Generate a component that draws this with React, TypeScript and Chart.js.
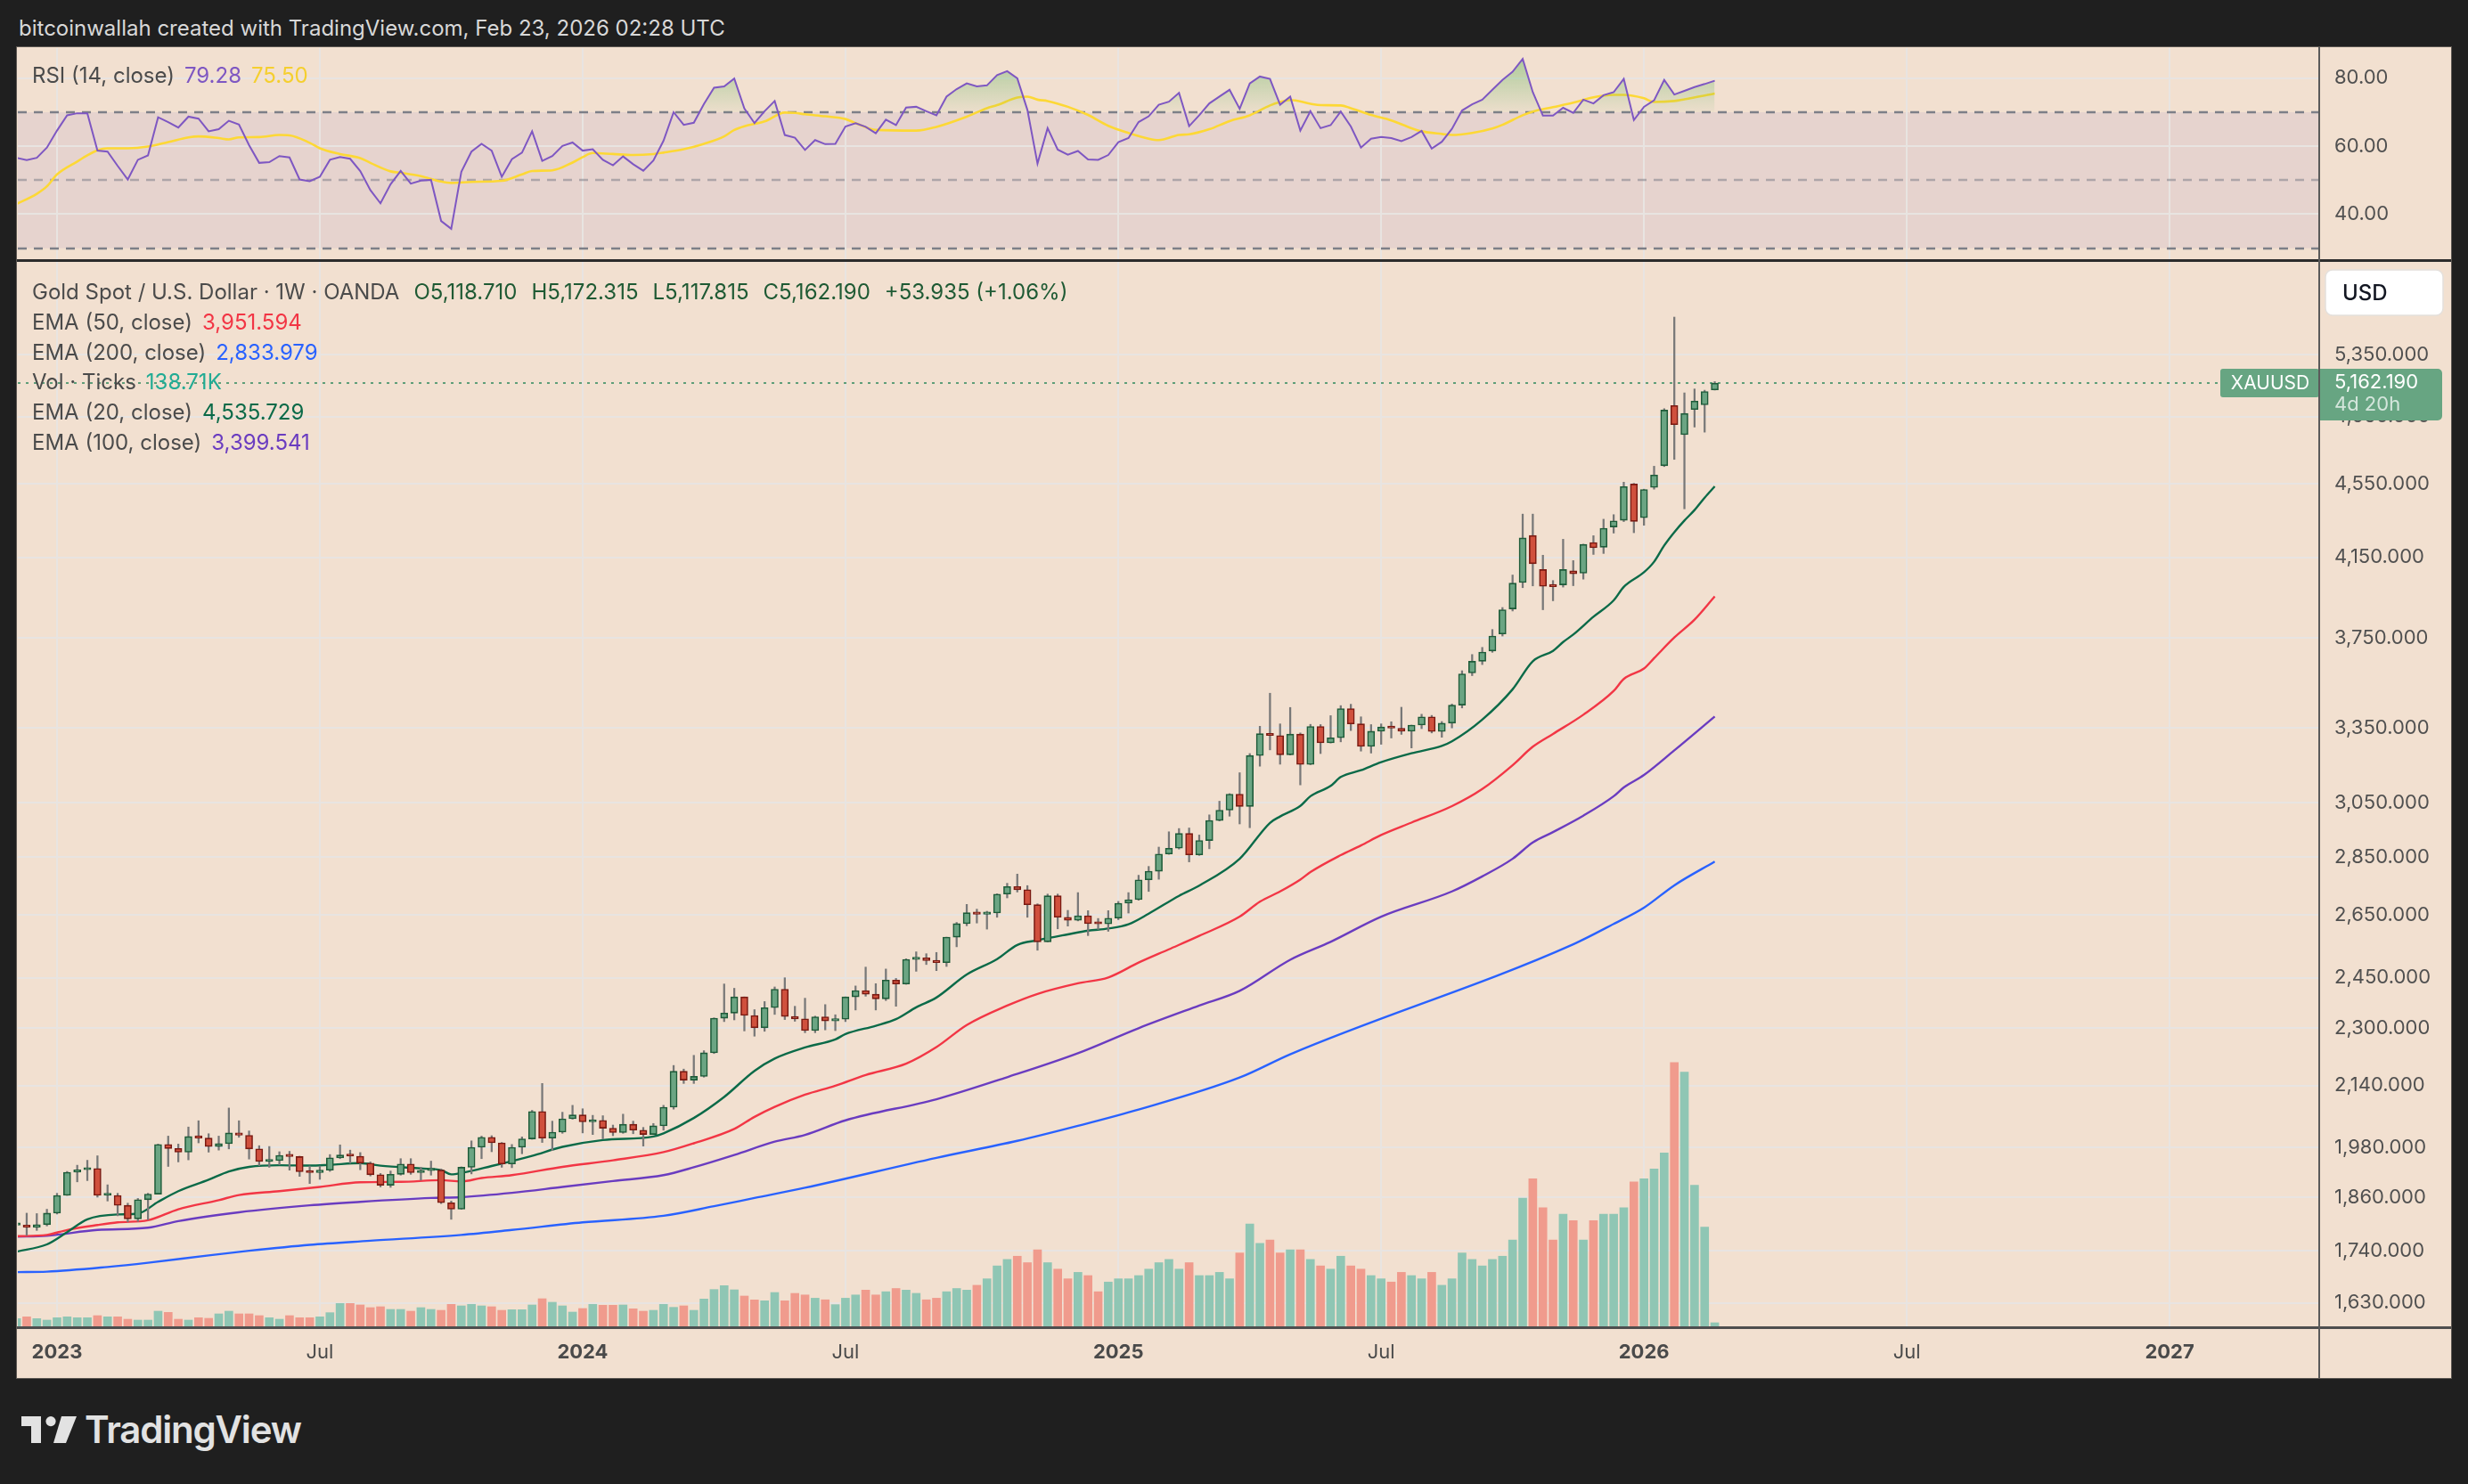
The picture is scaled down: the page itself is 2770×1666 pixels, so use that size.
import React, { useEffect, useRef } from "react";
import { Chart, registerables } from "chart.js";

Chart.register(...registerables);

// ---- Weekly XAUUSD bars (OANDA). Week index 0 = week of 2 Jan 2023 ----
const firstWeek = -4;

const opens = [
  1797, 1797, 1792, 1798,
  1824, 1865, 1920, 1926, 1929, 1865, 1865, 1842, 1811, 1855,
  1868, 1988, 1978, 1969, 2008, 2004, 1983, 1990, 2017, 2011,
  1977, 1946, 1948, 1961, 1958, 1921, 1919, 1925, 1955, 1962,
  1959, 1942, 1914, 1889, 1915, 1940, 1919, 1924, 1925, 1848,
  1833, 1932, 1981, 2006, 1992, 1940, 1981, 2002, 2072, 2004,
  2019, 2053, 2063, 2045, 2049, 2029, 2018, 2039, 2024, 2013,
  2035, 2083, 2179, 2155, 2165, 2230, 2329, 2344, 2392, 2337,
  2301, 2360, 2415, 2334, 2327, 2293, 2333, 2321, 2326, 2392,
  2411, 2400, 2386, 2443, 2431, 2507, 2512, 2503, 2497, 2578,
  2622, 2658, 2653, 2657, 2721, 2747, 2736, 2685, 2563, 2715,
  2643, 2633, 2648, 2622, 2621, 2640, 2690, 2702, 2770, 2800,
  2861, 2882, 2936, 2858, 2910, 2984, 3023, 3084, 3037, 3237,
  3327, 3319, 3240, 3325, 3201, 3357, 3289, 3310, 3433, 3368,
  3274, 3337, 3355, 3350, 3337, 3363, 3398, 3336, 3371, 3448,
  3590, 3643, 3690, 3770, 3890, 4021, 4265, 4087, 4005, 4009,
  4080, 4068, 4228, 4203, 4311, 4347, 4549, 4361, 4530, 4655,
  5020, 4840, 4995, 5024, 5118.71,
];

const highs = [
  1810, 1824, 1823, 1833,
  1870, 1922, 1937, 1949, 1960, 1890, 1870, 1847, 1858, 1870,
  1989, 2009, 1989, 2032, 2048, 2015, 2009, 2081, 2048, 2022,
  1985, 1983, 1970, 1971, 1959, 1935, 1935, 1963, 1987, 1974,
  1968, 1945, 1917, 1923, 1953, 1953, 1932, 1947, 1928, 1852,
  1933, 1997, 2009, 2010, 1993, 1988, 2007, 2075, 2146, 2047,
  2070, 2088, 2079, 2062, 2061, 2037, 2065, 2047, 2031, 2041,
  2088, 2195, 2185, 2223, 2236, 2330, 2431, 2418, 2392, 2354,
  2378, 2422, 2450, 2364, 2388, 2335, 2369, 2339, 2392, 2425,
  2483, 2432, 2477, 2448, 2509, 2531, 2525, 2529, 2578, 2626,
  2686, 2670, 2663, 2722, 2758, 2790, 2750, 2688, 2721, 2721,
  2666, 2726, 2665, 2639, 2665, 2696, 2726, 2786, 2817, 2886,
  2942, 2954, 2956, 2930, 3005, 3057, 3086, 3168, 3245, 3358,
  3500, 3368, 3438, 3330, 3366, 3365, 3403, 3446, 3452, 3398,
  3365, 3368, 3377, 3439, 3363, 3409, 3404, 3378, 3453, 3600,
  3674, 3707, 3791, 3897, 4059, 4381, 4381, 4161, 4031, 4245,
  4133, 4219, 4264, 4353, 4378, 4560, 4553, 4520, 4652, 5000,
  5608, 5100, 5125, 5117, 5172.315,
];

const lows = [
  1765, 1774, 1785, 1795,
  1822, 1865, 1897, 1900, 1861, 1852, 1818, 1804, 1805, 1809,
  1868, 1934, 1945, 1950, 1992, 1969, 1974, 1977, 2006, 1952,
  1936, 1932, 1938, 1925, 1910, 1893, 1903, 1922, 1953, 1942,
  1926, 1911, 1885, 1884, 1913, 1915, 1901, 1913, 1846, 1810,
  1833, 1916, 1953, 1970, 1932, 1931, 1965, 2001, 1993, 1973,
  2016, 2052, 2017, 2013, 2002, 2010, 2016, 2015, 1984, 2013,
  2024, 2078, 2146, 2146, 2163, 2228, 2319, 2324, 2292, 2277,
  2291, 2340, 2325, 2320, 2287, 2287, 2295, 2293, 2319, 2353,
  2394, 2353, 2381, 2364, 2430, 2470, 2491, 2472, 2485, 2547,
  2615, 2624, 2604, 2643, 2708, 2728, 2643, 2536, 2563, 2605,
  2614, 2631, 2583, 2603, 2597, 2635, 2657, 2700, 2730, 2772,
  2860, 2879, 2833, 2856, 2880, 2982, 3000, 2971, 2957, 3194,
  3260, 3202, 3239, 3120, 3200, 3245, 3288, 3293, 3340, 3255,
  3247, 3283, 3309, 3324, 3268, 3348, 3330, 3312, 3351, 3436,
  3578, 3628, 3684, 3760, 3880, 3995, 4004, 3886, 3930, 3998,
  4005, 4038, 4165, 4170, 4278, 4340, 4280, 4320, 4520, 4650,
  4692, 4410, 4886, 4855, 5117.815,
];

const closes = [
  1797, 1792, 1798, 1824,
  1865, 1920, 1926, 1929, 1865, 1865, 1842, 1811, 1855, 1868,
  1988, 1978, 1969, 2008, 2004, 1983, 1990, 2017, 2011, 1977,
  1946, 1948, 1961, 1958, 1921, 1919, 1925, 1955, 1962, 1959,
  1942, 1914, 1889, 1915, 1940, 1919, 1924, 1925, 1848, 1833,
  1932, 1981, 2006, 1992, 1940, 1981, 2002, 2072, 2004, 2019,
  2053, 2063, 2045, 2049, 2029, 2018, 2039, 2024, 2013, 2035,
  2083, 2179, 2155, 2165, 2230, 2329, 2344, 2392, 2337, 2301,
  2360, 2415, 2334, 2327, 2293, 2333, 2321, 2326, 2392, 2411,
  2400, 2386, 2443, 2431, 2507, 2512, 2503, 2497, 2578, 2622,
  2658, 2653, 2657, 2721, 2747, 2736, 2685, 2563, 2715, 2643,
  2633, 2648, 2622, 2621, 2640, 2690, 2702, 2770, 2800, 2861,
  2882, 2936, 2858, 2910, 2984, 3023, 3084, 3037, 3237, 3327,
  3319, 3240, 3325, 3201, 3357, 3289, 3310, 3433, 3368, 3274,
  3337, 3355, 3350, 3337, 3363, 3398, 3336, 3371, 3448, 3586,
  3643, 3685, 3760, 3886, 4018, 4252, 4117, 4002, 4000, 4087,
  4065, 4218, 4200, 4304, 4344, 4535, 4341, 4518, 4601, 4991,
  4901, 4970, 5048, 5108.255, 5162.19,
];

// Tick volume, thousands of ticks
const volumes = [
  267, 322, 267, 221,
  294, 322, 294, 294, 359, 322, 322, 248, 221, 221,
  497, 460, 248, 221, 294, 276, 414, 497, 414, 414,
  359, 294, 248, 359, 294, 294, 322, 451, 736, 736,
  690, 607, 635, 552, 552, 497, 607, 552, 524, 708,
  662, 708, 662, 635, 524, 543, 543, 690, 883, 773,
  662, 469, 580, 708, 681, 681, 690, 570, 497, 524,
  708, 616, 662, 524, 874, 1168, 1288, 1159, 966, 846,
  819, 1076, 819, 1049, 1000, 900, 850, 700, 900, 1000,
  1150, 1000, 1100, 1200, 1150, 1050, 850, 900, 1100, 1200,
  1150, 1300, 1500, 1900, 2100, 2200, 2000, 2400, 2000, 1800,
  1500, 1700, 1600, 1100, 1400, 1500, 1500, 1600, 1800, 2000,
  2100, 1800, 2000, 1600, 1600, 1700, 1500, 2300, 3200, 2600,
  2700, 2300, 2400, 2400, 2100, 1900, 1800, 2200, 1900, 1800,
  1600, 1500, 1400, 1700, 1600, 1500, 1700, 1300, 1500, 2300,
  2100, 1900, 2100, 2200, 2700, 4000, 4600, 3700, 2700, 3500,
  3300, 2700, 3300, 3500, 3500, 3700, 4500, 4600, 4900, 5400,
  8200, 7900, 4400, 3100, 138.71,
];

// RSI (14, close), one value per bar
const rsiValues = [
  56.6, 55.9, 56.6, 59.6,
  64.6, 69.1, 69.7, 69.7, 58.7, 58.4, 54.2, 50.2, 56.0, 57.3,
  68.5, 67.1, 65.5, 68.7, 68.1, 64.4, 65.0, 67.5, 66.4, 60.3,
  55.1, 55.3, 57.1, 56.7, 50.2, 49.7, 51.0, 56.0, 56.8, 56.3,
  52.7, 47.1, 43.2, 48.8, 52.7, 49.0, 49.9, 50.1, 38.0, 35.7,
  52.5, 58.4, 60.7, 58.7, 51.0, 56.2, 58.1, 64.4, 55.7, 57.1,
  60.1, 61.1, 58.7, 59.1, 56.0, 54.4, 57.0, 54.7, 52.8, 55.8,
  61.6, 70.0, 66.3, 66.9, 72.4, 77.2, 77.6, 79.9, 71.1, 66.8,
  70.3, 73.3, 63.3, 62.5, 58.9, 61.8, 60.6, 60.7, 65.8, 66.8,
  65.7, 63.8, 67.8, 66.2, 71.4, 71.6, 70.3, 69.1, 74.6, 76.8,
  78.5, 77.6, 77.9, 80.9, 82.1, 80.0, 70.7, 54.9, 65.3, 59.0,
  57.5, 58.6, 56.1, 56.0, 57.4, 61.2, 62.4, 67.1, 68.8, 72.2,
  73.1, 75.7, 65.9, 69.1, 72.6, 74.6, 76.6, 71.0, 78.5, 80.5,
  79.8, 72.2, 74.6, 64.6, 70.3, 65.3, 66.2, 70.2, 65.8, 59.6,
  62.2, 62.7, 62.4, 61.5, 62.7, 64.5, 59.3, 61.3, 65.1, 70.5,
  72.3, 73.7, 76.6, 79.5, 81.9, 85.7, 75.9, 69.0, 69.0, 71.3,
  69.8, 73.7, 72.6, 75.0, 75.9, 79.8, 67.7, 71.6, 73.5, 79.5,
  75.2, 76.3, 77.4, 78.3, 79.28,
];

// RSI-based moving average
const rsiMaWeeks = [
  -4, -2, -1, 0, 2, 3, 4, 5, 7, 9, 11, 13, 14, 16, 17, 18, 20, 22, 23, 25,
  26, 28, 30, 31, 33, 34, 36, 38, 39, 41, 44, 46, 47, 49, 51, 52, 53, 55, 57, 59,
  60, 62, 64, 66, 67, 68, 70, 72, 73, 74, 76, 78, 79, 81, 85, 87, 90, 92, 93, 95,
  96, 97, 98, 100, 102, 104, 106, 108, 109, 111, 112, 114, 116, 118, 120, 121, 122, 124, 125, 127,
  128, 130, 132, 134, 135, 137, 138, 140, 142, 143, 145, 146, 148, 150, 152, 154, 155, 157, 158, 160,
  161, 164,
];
const rsiMaValues = [
  43.0, 46.0, 48.2, 51.7, 55.5, 57.3, 58.8, 59.4, 59.4, 59.9, 61.2, 62.6, 62.9, 62.4, 62.0, 62.6, 62.7, 63.3, 63.2, 61.0,
  59.4, 57.7, 56.5, 55.1, 52.6, 52.2, 51.2, 49.6, 49.2, 49.5, 49.8, 51.7, 52.7, 52.9, 55.2, 56.8, 58.0, 57.7, 57.4, 57.7,
  58.1, 59.1, 60.7, 62.9, 64.8, 65.9, 67.3, 69.9, 69.8, 69.4, 68.8, 68.0, 66.8, 64.8, 64.6, 65.7, 68.7, 71.2, 72.1, 74.3,
  74.6, 73.7, 73.3, 71.6, 69.2, 66.0, 63.9, 62.2, 61.8, 63.3, 63.5, 65.0, 67.4, 69.1, 72.0, 73.0, 73.6, 72.5, 72.1, 72.0,
  71.2, 69.2, 67.6, 65.3, 64.4, 63.6, 63.3, 63.9, 65.2, 66.3, 69.1, 70.2, 71.5, 72.8, 74.4, 75.1, 75.1, 74.1, 73.0, 73.3,
  73.8, 75.5,
];

// Exponential moving averages of the close
const ema20Weeks = [
  -4, -1, 1, 3, 6, 8, 10, 12, 15, 17, 19, 22, 25, 27, 30, 32, 36, 38, 39, 40,
  43, 47, 50, 54, 59, 60, 63, 66, 69, 71, 74, 77, 78, 81, 83, 85, 87, 90, 93, 95,
  97, 100, 102, 104, 106, 108, 111, 113, 117, 120, 121, 123, 124, 126, 127, 129, 131, 134, 137, 138,
  141, 144, 146, 148, 149, 150, 152, 154, 155, 157, 158, 159, 160, 161, 162, 163, 164,
];
const ema20Values = [
  1738, 1754, 1781, 1810, 1821, 1823, 1850, 1875, 1902, 1922, 1933, 1937, 1936, 1938, 1942, 1936, 1929, 1925, 1915, 1918,
  1935, 1960, 1982, 1999, 2008, 2016, 2055, 2110, 2180, 2214, 2245, 2268, 2283, 2307, 2326, 2361, 2390, 2460, 2508, 2553,
  2568, 2587, 2599, 2606, 2620, 2655, 2715, 2750, 2844, 2975, 2999, 3039, 3076, 3116, 3151, 3178, 3210, 3246, 3276, 3295,
  3386, 3517, 3643, 3691, 3732, 3767, 3852, 3932, 3999, 4073, 4127, 4212, 4283, 4346, 4403, 4472, 4535.729,
];

const ema50Weeks = [
  -4, -1, 1, 4, 6, 9, 12, 16, 18, 22, 26, 30, 34, 38, 40, 42, 45, 50, 55, 60,
  63, 67, 69, 71, 74, 77, 80, 84, 87, 90, 94, 97, 101, 104, 107, 110, 113, 117, 119, 121,
  123, 124, 127, 129, 131, 134, 138, 141, 144, 146, 148, 151, 154, 155, 157, 158, 160, 162, 164,
];
const ema50Values = [
  1772, 1775, 1786, 1797, 1803, 1808, 1833, 1854, 1866, 1875, 1885, 1896, 1897, 1901, 1898, 1906, 1913, 1933, 1949, 1969,
  1991, 2027, 2058, 2084, 2116, 2140, 2169, 2200, 2246, 2309, 2366, 2401, 2433, 2451, 2497, 2539, 2582, 2645, 2695, 2730,
  2771, 2797, 2857, 2892, 2930, 2976, 3038, 3104, 3198, 3273, 3326, 3407, 3510, 3563, 3610, 3657, 3753, 3838, 3951.594,
];

const ema100Weeks = [
  -4, -1, 4, 9, 12, 18, 25, 30, 37, 40, 45, 50, 55, 60, 63, 67, 71, 74, 78, 87,
  94, 101, 107, 113, 117, 122, 126, 131, 138, 141, 144, 146, 148, 151, 154, 155, 157, 160, 164,
];
const ema100Values = [
  1771, 1773, 1786, 1791, 1806, 1826, 1842, 1850, 1859, 1861, 1871, 1885, 1899, 1913, 1932, 1962, 1995, 2012, 2049, 2104,
  2163, 2229, 2300, 2366, 2410, 2506, 2563, 2645, 2730, 2782, 2844, 2903, 2941, 3002, 3076, 3110, 3159, 3258, 3399.541,
];

const ema200Weeks = [
  -4, -1, 5, 9, 15, 19, 25, 31, 40, 45, 52, 60, 65, 69, 74, 87, 95, 101, 107, 117,
  122, 150, 154, 157, 160, 164,
];
const ema200Values = [
  1694, 1695, 1705, 1714, 1730, 1740, 1753, 1762, 1775, 1786, 1803, 1818, 1840, 1859, 1883, 1955, 1997, 2035, 2077, 2162,
  2226, 2555, 2621, 2675, 2751, 2833.979,
];

// Axis ticks
const priceTicks = [1630, 1740, 1860, 1980, 2140, 2300, 2450, 2650, 2850, 3050, 3350, 3750, 4150, 4550, 4950, 5350];
const rsiTicks = [40, 60, 80];
const timeTickWeeks = [0, 26, 52, 78, 105, 131, 157, 183, 209];
const timeTickLabels = ["2023", "Jul", "2024", "Jul", "2025", "Jul", "2026", "Jul", "2027"];

// ---- styling ----
const FONT = "Inter, 'Noto Sans', Roboto, sans-serif";
const PAGE_BG = "#1f1f1f";
const PANE_BG = "#f2e0d0";
const GRID = "#e8e4e1";
const AXIS_TEXT = "#505050";
const UP_FILL = "#6ba583";
const UP_LINE = "#1e5b39";
const DOWN_FILL = "#d0503d";
const DOWN_LINE = "#7a1a12";
const VOL_UP = "#8fc6b4";
const VOL_DOWN = "#f09b8d";
const TAG_GREEN = "#67a582";

// visible week range and value ranges of the panes
const X_MIN = -3.878;
const X_MAX = 223.8;
const PRICE_MIN = 1581;
const PRICE_MAX = 6010;
const RSI_MIN = 26.75;
const RSI_MAX = 88.87;
const VOL_MAX = 33000;

const PLOT_W = 2583;
const AXIS_W = 147;
const CANVAS_W = PLOT_W + AXIS_W;
const RSI_TOP = 54;
const RSI_H = 237;
const MAIN_TOP = 294;
const MAIN_H = 1252;
const TIME_AXIS_H = 56;

const weeks = opens.map((_, k) => firstWeek + k);
const lastIdx = closes.length - 1;
const lastClose = closes[lastIdx];
const prevClose = closes[lastIdx - 1];

const fmtPrice = (v: number) =>
  v.toLocaleString("en-US", { minimumFractionDigits: 3, maximumFractionDigits: 3 });

const baseOptions = {
  responsive: false,
  maintainAspectRatio: false,
  animation: false as const,
  devicePixelRatio: 1,
  events: [] as any[],
  layout: { padding: 0, autoPadding: false },
  plugins: { legend: { display: false }, tooltip: { enabled: false } },
};

const timeAxisTicks = (scale: any) => {
  scale.ticks = timeTickWeeks.map((v) => ({ value: v }));
};

// the price/RSI axis keeps a fixed width and never pads the plot area
const fixRightAxis = (s: any) => {
  s.width = AXIS_W;
  s.paddingTop = 0;
  s.paddingBottom = 0;
  s.paddingLeft = 0;
  s.paddingRight = 0;
};

function pts(xs: number[], ys: number[]) {
  return xs.map((x, k) => ({ x, y: ys[k] }));
}

// band 30-70 and the dashed level lines of the RSI pane
const rsiLevels = {
  id: "rsiLevels",
  beforeDraw(chart: any) {
    const { ctx, chartArea, scales } = chart;
    const y70 = scales.y.getPixelForValue(70);
    const y30 = scales.y.getPixelForValue(30);
    ctx.save();
    ctx.fillStyle = "#e6d3ce";
    ctx.fillRect(chartArea.left, y70, chartArea.right - chartArea.left, y30 - y70);
    ctx.restore();
  },
  beforeDatasetsDraw(chart: any) {
    const { ctx, chartArea, scales } = chart;
    const lines: [number, string][] = [
      [70, "#7d7f88"],
      [50, "rgba(125,127,136,0.55)"],
      [30, "#7d7f88"],
    ];
    ctx.save();
    ctx.lineWidth = 2.5;
    ctx.setLineDash([10, 8]);
    for (const [v, c] of lines) {
      const y = Math.round(scales.y.getPixelForValue(v));
      ctx.strokeStyle = c;
      ctx.beginPath();
      ctx.moveTo(chartArea.left, y);
      ctx.lineTo(chartArea.right, y);
      ctx.stroke();
    }
    ctx.restore();
  },
};

// last price line, symbol tag, price badge and currency box
const lastPrice = {
  id: "lastPrice",
  beforeDatasetsDraw(chart: any) {
    const { ctx, chartArea, scales } = chart;
    const y = Math.round(scales.y.getPixelForValue(lastClose));
    ctx.save();
    ctx.strokeStyle = "#5f9e79";
    ctx.lineWidth = 2;
    ctx.setLineDash([3, 6]);
    ctx.beginPath();
    ctx.moveTo(chartArea.left, y);
    ctx.lineTo(chartArea.right, y);
    ctx.stroke();
    ctx.restore();
  },
  afterDraw(chart: any) {
    const { ctx, chartArea, scales } = chart;
    const y = Math.round(scales.y.getPixelForValue(lastClose));
    const r = chartArea.right;
    ctx.save();
    ctx.fillStyle = TAG_GREEN;
    ctx.beginPath();
    ctx.roundRect(r - 111, y - 16, 111, 32, 3);
    ctx.fill();
    ctx.fillStyle = "#ffffff";
    ctx.font = `21px ${FONT}`;
    ctx.textAlign = "center";
    ctx.textBaseline = "middle";
    ctx.fillText("XAUUSD", r - 55, y + 1);

    ctx.fillStyle = TAG_GREEN;
    ctx.beginPath();
    ctx.roundRect(r, y - 16, 138, 58, [0, 5, 5, 0]);
    ctx.fill();
    ctx.textAlign = "left";
    ctx.font = `22px ${FONT}`;
    ctx.fillStyle = "#ffffff";
    ctx.fillText(fmtPrice(lastClose), r + 17, y - 1);
    ctx.fillStyle = "rgba(255,255,255,0.72)";
    ctx.fillText("4d 20h", r + 17, y + 24);

    ctx.fillStyle = "#ffffff";
    ctx.strokeStyle = "#e4e0dc";
    ctx.lineWidth = 1.5;
    ctx.beginPath();
    ctx.roundRect(r + 7, 9, 132, 51, 8);
    ctx.fill();
    ctx.stroke();
    ctx.fillStyle = "#131722";
    ctx.font = `500 24px ${FONT}`;
    ctx.fillText("USD", r + 26, 36);
    ctx.restore();
  },
};

function rsiConfig(): any {
  return {
    type: "line",
    data: {
      datasets: [
        {
          label: "RSI",
          data: pts(weeks, rsiValues),
          borderColor: "#7e57c2",
          borderWidth: 2,
          pointRadius: 0,
          tension: 0,
          order: 0,
          fill: { target: { value: 70 }, below: "rgba(0,0,0,0)" },
          backgroundColor: (c: any) => {
            const chart = c.chart;
            const ys = chart.scales && chart.scales.y;
            if (!chart.chartArea || !ys) return "rgba(76,175,80,0.3)";
            const g = chart.ctx.createLinearGradient(0, ys.getPixelForValue(86), 0, ys.getPixelForValue(70));
            g.addColorStop(0, "rgba(76,175,80,0.42)");
            g.addColorStop(1, "rgba(76,175,80,0.03)");
            return g;
          },
        },
        {
          label: "RSI MA",
          data: pts(rsiMaWeeks, rsiMaValues),
          borderColor: "#fdd835",
          borderWidth: 2.6,
          pointRadius: 0,
          cubicInterpolationMode: "monotone",
          order: 1,
          fill: false,
        },
      ],
    },
    options: {
      ...baseOptions,
      scales: {
        x: {
          type: "linear",
          offset: false,
          min: X_MIN,
          max: X_MAX,
          afterBuildTicks: timeAxisTicks,
          ticks: { display: false },
          grid: { color: GRID, lineWidth: 2, drawTicks: false, offset: false },
          border: { display: false },
          afterFit: (s: any) => {
            s.height = 0;
            s.paddingLeft = 0;
            s.paddingRight = 0;
          },
        },
        y: {
          type: "linear",
          position: "right",
          min: RSI_MIN,
          max: RSI_MAX,
          afterBuildTicks: (s: any) => {
            s.ticks = rsiTicks.map((v) => ({ value: v }));
          },
          ticks: {
            callback: (v: any) => Number(v).toFixed(2),
            color: AXIS_TEXT,
            font: { family: FONT, size: 22 },
            padding: 17,
          },
          grid: { color: GRID, lineWidth: 2, drawTicks: false },
          border: { display: false },
          afterFit: fixRightAxis,
        },
      },
    },
    plugins: [rsiLevels],
  };
}

function mainConfig(): any {
  const up = closes.map((c, k) => c >= opens[k]);
  return {
    type: "bar",
    data: {
      datasets: [
        {
          type: "bar",
          label: "Body",
          data: weeks.map((w, k) => ({ x: w, y: [opens[k], closes[k]] })),
          backgroundColor: up.map((u) => (u ? UP_FILL : DOWN_FILL)),
          borderColor: up.map((u) => (u ? UP_LINE : DOWN_LINE)),
          borderWidth: 1.6,
          borderSkipped: false,
          barThickness: 8,
          minBarLength: 2.5,
          grouped: false,
          yAxisID: "y",
          order: 0,
        },
        {
          type: "bar",
          label: "Wick",
          data: weeks.map((w, k) => ({ x: w, y: [lows[k], highs[k]] })),
          backgroundColor: "#787878",
          barThickness: 1.6,
          grouped: false,
          yAxisID: "y",
          order: 1,
        },
        {
          type: "line",
          label: "EMA 20",
          data: pts(ema20Weeks, ema20Values),
          borderColor: "#0b6a48",
          borderWidth: 2.4,
          pointRadius: 0,
          cubicInterpolationMode: "monotone",
          yAxisID: "y",
          order: 2,
        },
        {
          type: "line",
          label: "EMA 50",
          data: pts(ema50Weeks, ema50Values),
          borderColor: "#f23645",
          borderWidth: 2.4,
          pointRadius: 0,
          cubicInterpolationMode: "monotone",
          yAxisID: "y",
          order: 3,
        },
        {
          type: "line",
          label: "EMA 100",
          data: pts(ema100Weeks, ema100Values),
          borderColor: "#6a3cc0",
          borderWidth: 2.4,
          pointRadius: 0,
          cubicInterpolationMode: "monotone",
          yAxisID: "y",
          order: 4,
        },
        {
          type: "line",
          label: "EMA 200",
          data: pts(ema200Weeks, ema200Values),
          borderColor: "#2962ff",
          borderWidth: 2.4,
          pointRadius: 0,
          cubicInterpolationMode: "monotone",
          yAxisID: "y",
          order: 5,
        },
        {
          type: "bar",
          label: "Volume",
          data: weeks.map((w, k) => ({ x: w, y: volumes[k] })),
          backgroundColor: up.map((u) => (u ? VOL_UP : VOL_DOWN)),
          barThickness: 9,
          grouped: false,
          yAxisID: "yVol",
          order: 6,
        },
      ],
    },
    options: {
      ...baseOptions,
      scales: {
        x: {
          type: "linear",
          position: "bottom",
          offset: false,
          min: X_MIN,
          max: X_MAX,
          afterBuildTicks: timeAxisTicks,
          ticks: {
            autoSkip: false,
            maxRotation: 0,
            padding: 15,
            color: "#4a4a4a",
            callback: (v: any) => timeTickLabels[timeTickWeeks.indexOf(Number(v))] ?? "",
            font: (c: any) => ({
              family: FONT,
              size: 22,
              weight: c.tick && /^\d{4}$/.test(String(c.tick.label)) ? "bold" : "normal",
            }),
          },
          grid: { color: GRID, lineWidth: 2, drawTicks: false, offset: false },
          border: { display: false },
          afterFit: (s: any) => {
            s.height = TIME_AXIS_H;
            s.paddingLeft = 0;
            s.paddingRight = 0;
          },
        },
        y: {
          type: "logarithmic",
          position: "right",
          min: PRICE_MIN,
          max: PRICE_MAX,
          afterBuildTicks: (s: any) => {
            s.ticks = priceTicks.map((v) => ({ value: v }));
          },
          ticks: {
            callback: (v: any) => fmtPrice(Number(v)),
            color: AXIS_TEXT,
            font: { family: FONT, size: 22 },
            padding: 17,
          },
          grid: { color: GRID, lineWidth: 2, drawTicks: false },
          border: { display: false },
          afterFit: fixRightAxis,
        },
        yVol: {
          type: "linear",
          display: false,
          min: 0,
          max: VOL_MAX,
        },
      },
    },
    plugins: [lastPrice],
  };
}

const ohlcColor = "#1f5a34";

function LegendRow({ top, children }: { top: number; children: React.ReactNode }) {
  return (
    <div
      style={{
        position: "absolute",
        left: 36,
        top,
        height: 32,
        lineHeight: "32px",
        fontSize: 24,
        whiteSpace: "nowrap",
        color: "#4b4b4b",
      }}
    >
      {children}
    </div>
  );
}

export default function App() {
  const rsiRef = useRef<HTMLCanvasElement>(null);
  const mainRef = useRef<HTMLCanvasElement>(null);

  useEffect(() => {
    document.body.style.margin = "0";
    document.body.style.background = PAGE_BG;
    const rsiChart = new Chart(rsiRef.current as HTMLCanvasElement, rsiConfig());
    const mainChart = new Chart(mainRef.current as HTMLCanvasElement, mainConfig());
    return () => {
      rsiChart.destroy();
      mainChart.destroy();
    };
  }, []);

  const change = lastClose - prevClose;
  const changePct = (change / prevClose) * 100;
  const last = (arr: number[]) => arr[arr.length - 1];

  return (
    <div
      style={{
        position: "fixed",
        left: 0,
        top: 0,
        width: 2770,
        height: 1666,
        background: PAGE_BG,
        overflow: "hidden",
        fontFamily: FONT,
      }}
    >
      <div
        style={{
          position: "absolute",
          left: 21,
          top: 15,
          fontSize: 24,
          lineHeight: "34px",
          color: "#d8d8d8",
          whiteSpace: "nowrap",
        }}
      >
        bitcoinwallah created with TradingView.com, Feb 23, 2026 02:28 UTC
      </div>

      <div
        style={{
          position: "absolute",
          left: 19,
          top: 53,
          width: 2732,
          height: 1494,
          background: PANE_BG,
          boxShadow: "0 0 0 1px #5c5752",
        }}
      />

      <canvas
        ref={rsiRef}
        width={CANVAS_W}
        height={RSI_H}
        style={{ position: "absolute", left: 20, top: RSI_TOP, width: CANVAS_W, height: RSI_H }}
      />
      <canvas
        ref={mainRef}
        width={CANVAS_W}
        height={MAIN_H}
        style={{ position: "absolute", left: 20, top: MAIN_TOP, width: CANVAS_W, height: MAIN_H }}
      />

      {/* pane separators */}
      <div style={{ position: "absolute", left: 19, top: 291, width: 2732, height: 3, background: "#2c2c2c" }} />
      <div style={{ position: "absolute", left: 19, top: 1489, width: 2732, height: 2.5, background: "#4e4e4e" }} />
      <div style={{ position: "absolute", left: 2602, top: 53, width: 2, height: 1494, background: "#5a5a5a" }} />

      {/* RSI legend */}
      <div
        style={{
          position: "absolute",
          left: 36,
          top: 69,
          height: 32,
          lineHeight: "32px",
          fontSize: 24,
          whiteSpace: "nowrap",
          color: "#4b4b4b",
        }}
      >
        RSI (14, close)
        <span style={{ color: "#7e57c2", marginLeft: 11 }}>{last(rsiValues).toFixed(2)}</span>
        <span style={{ color: "#f5cf2f", marginLeft: 11 }}>{last(rsiMaValues).toFixed(2)}</span>
      </div>

      {/* price pane legend */}
      <LegendRow top={312}>
        Gold Spot / U.S. Dollar · 1W · OANDA
        <span style={{ color: ohlcColor, marginLeft: 16 }}>O{fmtPrice(opens[lastIdx])}</span>
        <span style={{ color: ohlcColor, marginLeft: 16 }}>H{fmtPrice(highs[lastIdx])}</span>
        <span style={{ color: ohlcColor, marginLeft: 16 }}>L{fmtPrice(lows[lastIdx])}</span>
        <span style={{ color: ohlcColor, marginLeft: 16 }}>C{fmtPrice(lastClose)}</span>
        <span style={{ color: ohlcColor, marginLeft: 16 }}>
          {change >= 0 ? "+" : ""}
          {change.toFixed(3)} ({change >= 0 ? "+" : ""}
          {changePct.toFixed(2)}%)
        </span>
      </LegendRow>
      <LegendRow top={346}>
        EMA (50, close)<span style={{ color: "#f23645", marginLeft: 11 }}>{fmtPrice(last(ema50Values))}</span>
      </LegendRow>
      <LegendRow top={380}>
        EMA (200, close)<span style={{ color: "#2962ff", marginLeft: 11 }}>{fmtPrice(last(ema200Values))}</span>
      </LegendRow>
      <LegendRow top={413}>
        Vol · Ticks<span style={{ color: "#22ab94", marginLeft: 11 }}>{last(volumes).toFixed(2)}K</span>
      </LegendRow>
      <LegendRow top={447}>
        EMA (20, close)<span style={{ color: "#0b6a48", marginLeft: 11 }}>{fmtPrice(last(ema20Values))}</span>
      </LegendRow>
      <LegendRow top={481}>
        EMA (100, close)<span style={{ color: "#6a3cc0", marginLeft: 11 }}>{fmtPrice(last(ema100Values))}</span>
      </LegendRow>

      {/* brand mark */}
      <svg
        width={64}
        height={31}
        viewBox="0 0 64 31"
        style={{ position: "absolute", left: 24, top: 1590 }}
      >
        <path d="M0 0 H22 V30 H11 V11 H0 Z" fill="#e2e2e2" />
        <circle cx="33" cy="5.6" r="5.6" fill="#e2e2e2" />
        <path d="M45 0 H62 L50 30 H36 Z" fill="#e2e2e2" />
      </svg>
      <div
        style={{
          position: "absolute",
          left: 95,
          top: 1582,
          fontSize: 42,
          lineHeight: "46px",
          fontWeight: 600,
          letterSpacing: -1.2,
          color: "#e2e2e2",
          whiteSpace: "nowrap",
        }}
      >
        TradingView
      </div>
    </div>
  );
}
